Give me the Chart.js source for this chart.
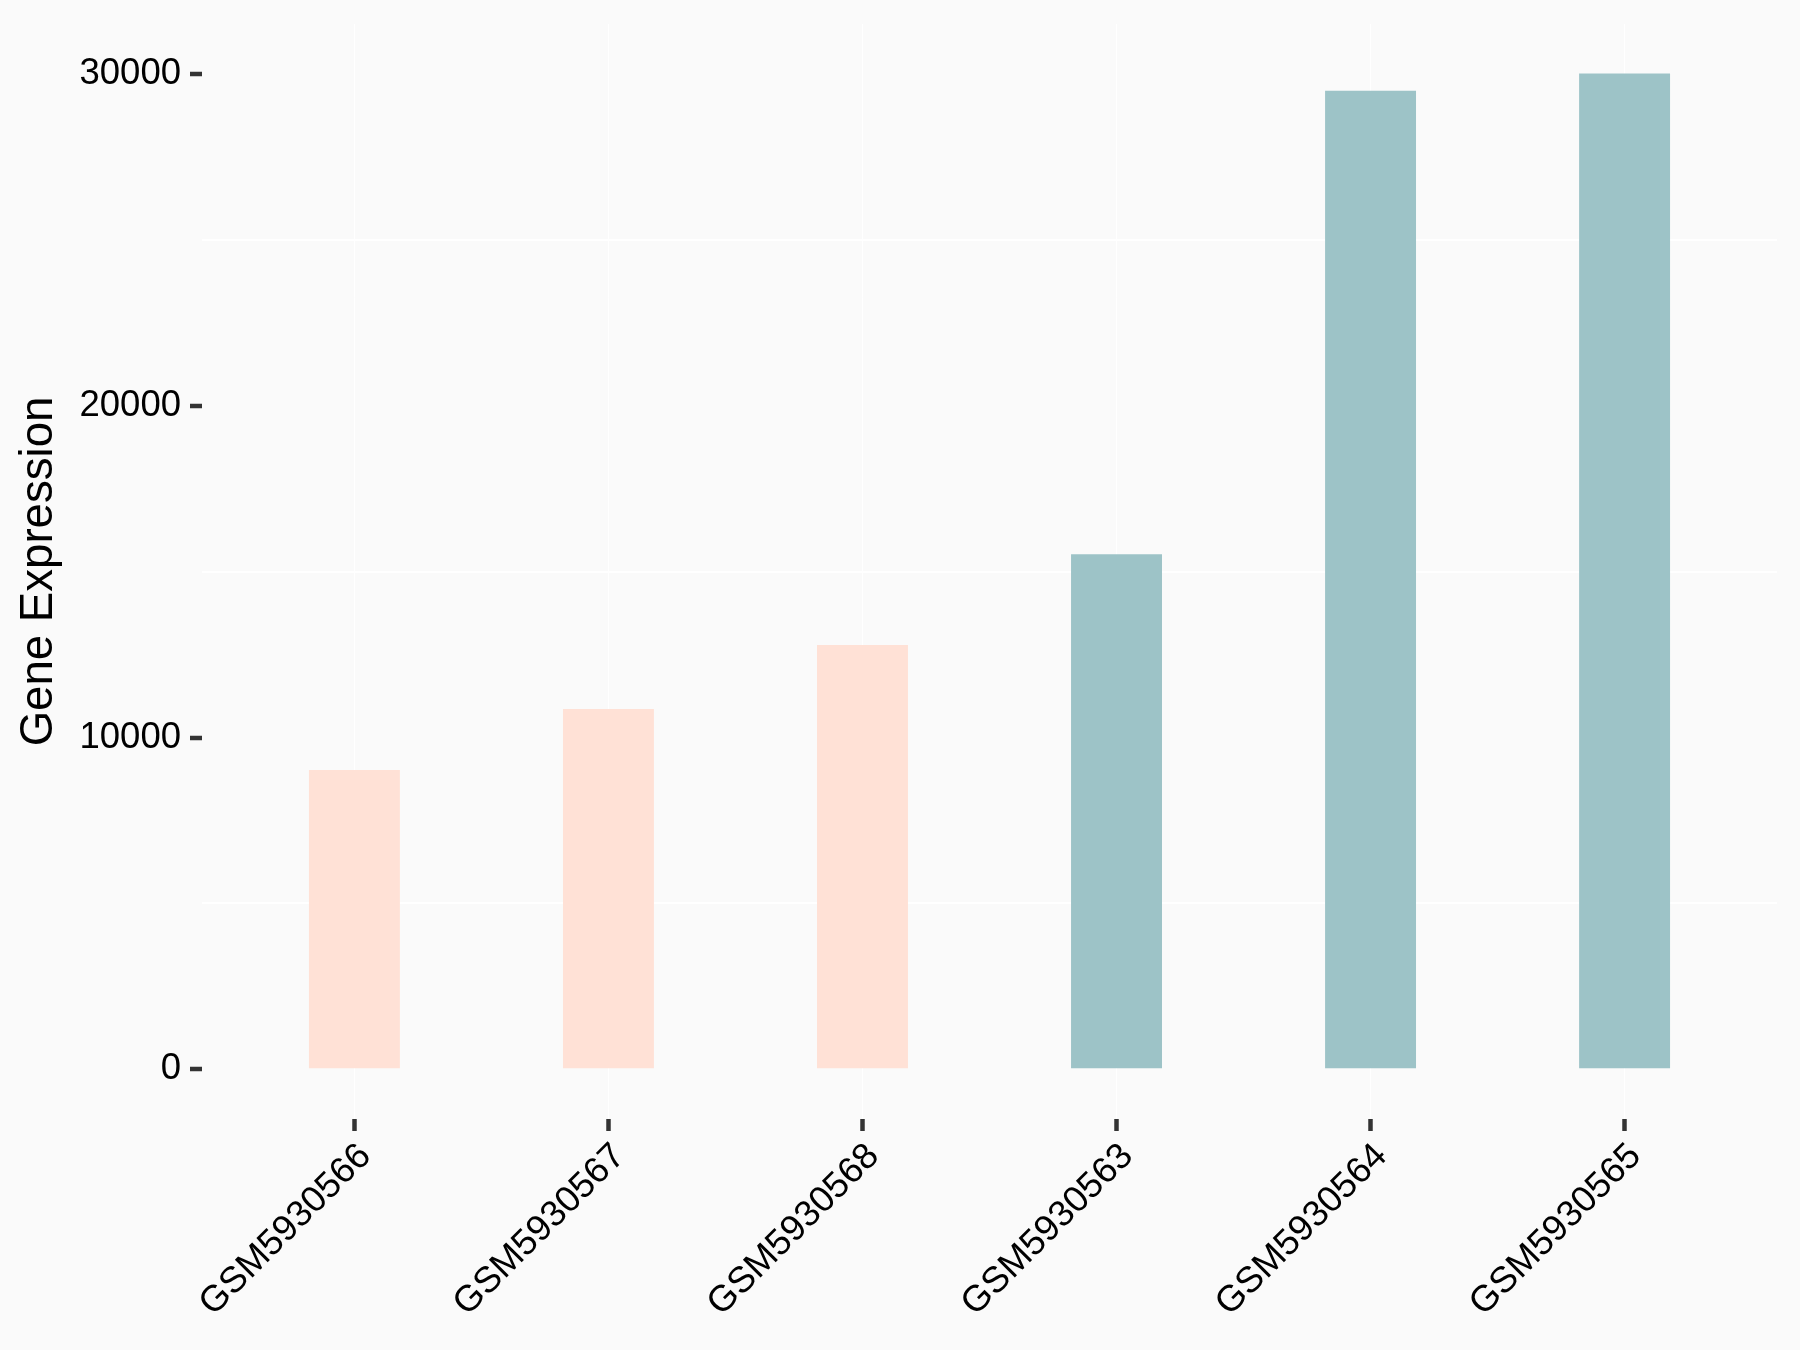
<!DOCTYPE html>
<html>
<head>
<meta charset="utf-8">
<script src="https://cdn.jsdelivr.net/npm/chart.js@4"></script>
<style>
  html, body { margin: 0; padding: 0; background: #fafafa; }
  canvas { display: block; }
</style>
</head>
<body>
<canvas id="chart" width="1800" height="1350"></canvas>
<script>
// samples, in plotted order
const samples = ['GSM5930566', 'GSM5930567', 'GSM5930568', 'GSM5930563', 'GSM5930564', 'GSM5930565'];
const expression = [9020, 10860, 12790, 15530, 29500, 30020];
const groups = ['a', 'a', 'a', 'b', 'b', 'b'];
const yMajor = [0, 10000, 20000, 30000];
const yMinor = [5000, 15000, 25000];

const groupColors = { a: '#ffe1d6', b: '#9dc3c7' };

const points = samples.map((s, i) => ({ x: i + 1, y: expression[i] }));

const ctx = document.getElementById('chart').getContext('2d');

new Chart(ctx, {
  type: 'bar',
  data: {
    datasets: [{
      data: points,
      backgroundColor: groups.map(g => groupColors[g]),
      borderWidth: 0,
      categoryPercentage: 1,
      barPercentage: 0.358
    }]
  },
  options: {
    responsive: false,
    animation: false,
    layout: { padding: { top: 24, right: 23, left: 0, bottom: 0 } },
    plugins: {
      legend: { display: false },
      tooltip: { enabled: false }
    },
    scales: {
      x: {
        type: 'linear',
        min: 0.4,
        max: 6.6,
        offset: false,
        afterBuildTicks: axis => {
          axis.ticks = samples.map((_, i) => ({ value: i + 1 }));
        },
        afterFit: axis => { axis.height = 231; },
        border: { display: false },
        grid: {
          offset: false,
          color: '#ffffff',
          lineWidth: 1,
          drawTicks: true,
          tickColor: '#333333',
          tickWidth: 4.5,
          tickLength: 12
        },
        ticks: {
          minRotation: 45,
          maxRotation: 45,
          autoSkip: false,
          padding: 4,
          labelOffset: 11,
          color: '#000000',
          font: { family: 'Liberation Sans, Arial, sans-serif', size: 36.5 },
          callback: v => samples[v - 1] ?? ''
        }
      },
      y: {
        min: -1500,
        max: 31516,
        afterBuildTicks: axis => {
          axis.ticks = yMajor.concat(yMinor).sort((a, b) => a - b).map(v => ({ value: v }));
        },
        afterFit: axis => {
          axis.width = 202;
          axis.paddingTop = 0;
          axis.paddingBottom = 0;
        },
        border: { display: false },
        grid: {
          color: c => yMinor.includes(c.tick.value) ? '#ffffff' : 'rgba(0,0,0,0)',
          lineWidth: 2,
          tickColor: c => yMajor.includes(c.tick.value) ? '#333333' : 'rgba(0,0,0,0)',
          tickWidth: 4.5,
          tickLength: 12
        },
        ticks: {
          padding: 9,
          color: '#000000',
          font: { family: 'Liberation Sans, Arial, sans-serif', size: 36.5 },
          callback: v => yMajor.includes(v) ? String(v) : ''
        },
        title: {
          display: true,
          text: 'Gene Expression',
          color: '#000000',
          padding: { top: 12, bottom: 0 },
          font: { family: 'Liberation Sans, Arial, sans-serif', size: 45.6 }
        }
      }
    }
  }
});
</script>
</body>
</html>
